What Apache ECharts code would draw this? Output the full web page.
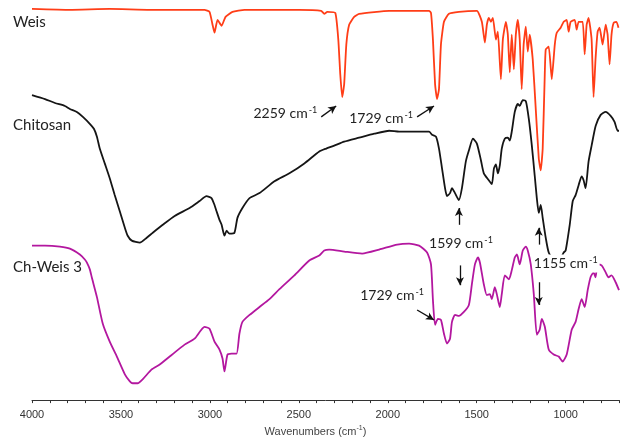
<!DOCTYPE html>
<html>
<head>
<meta charset="utf-8">
<script src="https://cdn.jsdelivr.net/npm/echarts@6/dist/echarts.min.js"></script>
<style>html,body{margin:0;padding:0;background:#fff}#c{width:622px;height:442px}</style>
</head>
<body>
<div id="c"></div>
<script>
// Wavenumber axis labelled ticks
const xTicks = [4000, 3500, 3000, 2500, 2000, 1500, 1000];

// Weis spectrum (arbitrary offset transmittance units)
const weisWn = [4000,3787,3563,3338,3114,3030,3002,2985,2974,2957,2934,2912,2873,2805,2497,2374,2357,2340,2295,2278,2267,2256,2245,2233,2217,2189,2161,1992,1768,1757,1746,1734,1723,1712,1701,1684,1656,1600,1499,1471,1454,1443,1432,1420,1409,1392,1381,1364,1353,1336,1325,1314,1303,1291,1280,1269,1258,1247,1236,1224,1213,1202,1185,1168,1151,1140,1129,1118,1112,1095,1078,1061,1050,1028,1011,994,983,972,949,938,927,904,893,882,871,854,843,832,820,809,792,775,764,753,742,730,714,703];
const weisT  = [395,394,395,394,394,394,392,379,371,384,378,387,392,394,394,393,390,392,391,364,329,306,319,359,379,387,390,393,393,391,364,319,304,314,359,382,390,392,393,382,361,379,386,382,386,364,372,324,364,382,369,331,369,334,369,384,364,314,359,377,352,369,344,294,244,232,254,324,354,357,324,359,371,376,382,384,372,382,384,374,382,382,349,379,386,364,306,344,372,376,359,379,369,339,369,381,382,376];

// Chitosan spectrum
const chitosanWn = [4000,3927,3871,3815,3787,3748,3714,3675,3652,3635,3619,3591,3563,3535,3507,3478,3462,3439,3394,3355,3321,3265,3198,3114,3058,3019,2991,2974,2963,2946,2934,2918,2906,2890,2862,2845,2817,2777,2721,2637,2553,2469,2385,2346,2301,2245,2161,2076,1992,1936,1880,1796,1768,1751,1729,1712,1695,1678,1667,1650,1639,1622,1600,1583,1561,1544,1521,1499,1476,1460,1432,1415,1403,1392,1381,1370,1359,1342,1325,1314,1303,1286,1269,1258,1241,1224,1207,1190,1174,1162,1151,1140,1129,1112,1095,1067,1033,1011,1000,977,960,944,927,910,899,888,871,854,831,803,775,747,725,708,700];
const chitosanT  = [308,304,300,297,294,291,286,279,274,266,254,239,224,207,191,174,166,161,159,164,169,177,186,194,201,206,204,197,191,182,177,166,171,168,169,184,194,204,209,221,229,239,251,254,257,261,265,269,272,271,271,271,271,268,266,254,234,214,206,209,214,209,202,214,241,252,264,259,242,229,222,218,234,238,229,237,254,264,265,262,271,291,299,297,303,302,284,257,227,204,189,197,184,164,149,142,142,149,151,177,201,207,217,226,222,214,241,257,277,288,291,287,281,272,272];

// Ch-Weis 3 spectrum
const chWeisWn = [4000,3927,3843,3787,3731,3703,3692,3675,3664,3635,3602,3563,3523,3478,3450,3434,3406,3378,3327,3282,3226,3142,3086,3030,3002,2974,2946,2929,2918,2901,2878,2850,2834,2817,2777,2721,2665,2609,2525,2441,2385,2357,2329,2245,2144,2048,1947,1880,1824,1779,1757,1746,1734,1718,1701,1684,1667,1650,1639,1622,1600,1572,1544,1527,1510,1493,1482,1460,1443,1426,1415,1398,1387,1370,1359,1342,1319,1303,1286,1274,1258,1241,1224,1213,1196,1179,1162,1146,1134,1117,1095,1067,1039,1017,994,966,944,927,910,893,876,860,843,832,820,798,775,759,742,719,700];
const chWeisT  = [156,156,155,153,147,142,139,132,124,104,77,59,44,26,19,17,17,21,31,36,44,56,62,74,72,59,51,42,29,46,47,47,67,79,86,94,102,112,126,141,146,151,152,150,148,152,157,158,156,149,137,101,76,82,81,67,57,62,79,86,85,89,96,117,137,144,139,117,106,107,102,114,107,94,107,126,122,131,144,147,137,151,155,151,137,107,66,71,82,74,51,46,44,39,46,71,79,92,102,94,111,124,129,124,137,136,129,124,126,119,111];

// Series names and annotation texts
const seriesNames = ['Weis', 'Chitosan', 'Ch-Weis 3'];
const peakLabels = ['2259', '1729', '1599', '1155', '1729'];

const pairs = (xs, ys) => xs.map((x, i) => [x, ys[i]]);

const chart = echarts.init(document.getElementById('c'), null, {renderer: 'canvas'});
const annoFont = 'Lato, "Noto Sans", sans-serif';
const labelRich = {
  a: {fontSize: 14, fontFamily: annoFont, color: '#222', lineHeight: 16},
  s: {fontSize: 9, fontFamily: annoFont, color: '#222', lineHeight: 16, verticalAlign: 'top', padding: [0, 0, 0, 1]}
};
function txt(wn, v, label, bg) {
  return {
    coord: [wn, v], symbol: 'circle', symbolSize: 0,
    label: {
      show: true, position: 'right', distance: 0,
      formatter: '{a|' + label + ' cm}{s|-1}', rich: labelRich,
      backgroundColor: bg ? '#fff' : 'transparent', padding: bg ? [1, 2, 1, 0] : 0
    }
  };
}
function arrow(x1, y1, x2, y2) {
  return [{coord: [x1, y1], symbol: 'none'}, {coord: [x2, y2], symbol: 'arrow', symbolSize: [6, 8]}];
}

chart.setOption({
  animation: false,
  backgroundColor: '#fff',
  grid: {left: 32, right: 0, top: 0, bottom: 38, containLabel: false},
  xAxis: {
    type: 'value', inverse: true, min: 700, max: 4000, interval: 100,
    axisLine: {show: true, lineStyle: {color: '#333', width: 1}},
    axisTick: {show: true, length: 3, lineStyle: {color: '#333'}},
    splitLine: {show: false},
    axisLabel: {
      margin: 9, fontSize: 11, fontFamily: '"Liberation Sans", Arial, sans-serif', color: '#333',
      showMinLabel: true, showMaxLabel: true, hideOverlap: false,
      formatter: v => xTicks.indexOf(v) >= 0 ? String(v) : ''
    },
    name: '{a|Wavenumbers (cm}{s|-1}{a|)}',
    nameLocation: 'middle', nameGap: 20,
    nameTextStyle: {
      padding: [0, 20, 0, 0],
      rich: {
        a: {fontSize: 11, fontFamily: '"Liberation Sans", Arial, sans-serif', color: '#444', lineHeight: 13},
        s: {fontSize: 7, fontFamily: '"Liberation Sans", Arial, sans-serif', color: '#444', lineHeight: 13, verticalAlign: 'top'}
      }
    }
  },
  yAxis: {type: 'value', min: 0, max: 404, show: false},
  graphic: [
    {type: 'text', left: 13, top: 15, style: {text: seriesNames[0], font: '15px Lato, "Noto Sans", sans-serif', fill: '#222'}},
    {type: 'text', left: 13, top: 118, style: {text: seriesNames[1], font: '15px Lato, "Noto Sans", sans-serif', fill: '#222'}},
    {type: 'text', left: 13, top: 260, style: {text: seriesNames[2], font: '15px Lato, "Noto Sans", sans-serif', fill: '#222'}}
  ],
  series: [
    {name: seriesNames[1], type: 'line', data: pairs(chitosanWn, chitosanT), showSymbol: false, smooth: 0.2,
     lineStyle: {color: '#151515', width: 1.8}, z: 2},
    {name: seriesNames[2], type: 'line', data: pairs(chWeisWn, chWeisT), showSymbol: false, smooth: 0.2,
     lineStyle: {color: '#B3179F', width: 1.8}, z: 2},
    {name: seriesNames[0], type: 'line', data: pairs(weisWn, weisT), showSymbol: false, smooth: 0.15,
     lineStyle: {color: '#FF3D17', width: 1.8}, z: 3},
    {name: 'annotations', type: 'scatter', data: [], z: 10,
     markPoint: {
       silent: true,
       data: [
         txt(2755, 289, peakLabels[0], false),
         txt(2217, 284, peakLabels[1], false),
         txt(1768, 158, peakLabels[2], false),
         txt(1179, 138, peakLabels[3], true),
         txt(2155, 106, peakLabels[4], false)
       ]
     },
     markLine: {
       silent: true, label: {show: false},
       lineStyle: {color: '#111', width: 1.3, type: 'solid'},
       data: [
         arrow(2374, 286, 2290, 297),
         arrow(1835, 286, 1740, 297),
         arrow(1600, 177, 1600, 194),
         arrow(1594, 136, 1594, 116),
         arrow(1151, 157, 1151, 174),
         arrow(1151, 119, 1151, 96),
         arrow(1835, 91, 1740, 81)
       ]
     }}
  ]
});
</script>
</body>
</html>
